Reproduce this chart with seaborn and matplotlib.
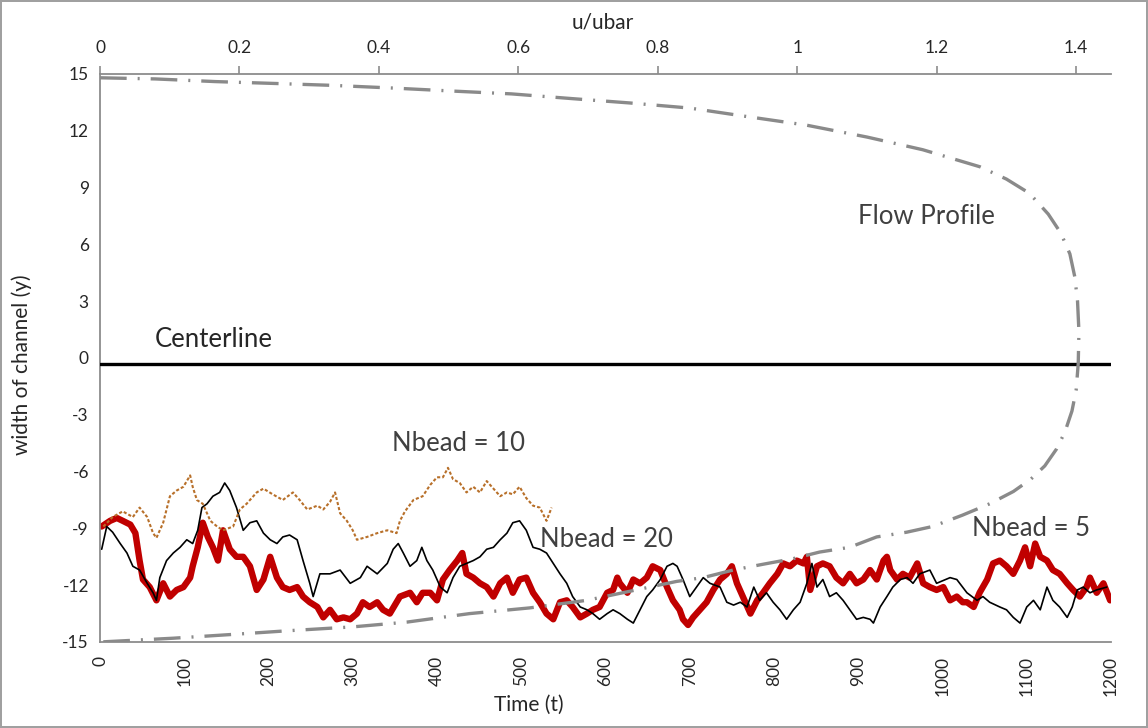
import matplotlib
matplotlib.use("Agg")
import matplotlib.pyplot as plt
import seaborn as sns
import numpy as np

# ---------------- data ----------------
# Nbead = 5 (thick red)
t5 = [2, 12, 20, 27, 36, 42, 47, 51, 59, 67, 75, 83, 91, 99, 107, 110, 116, 122, 128, 134,
      140, 146, 154, 162, 170, 178, 186, 194, 202, 210, 217, 225, 234, 241, 249, 258, 265,
      273, 281, 289, 297, 305, 312, 320, 329, 336, 344, 356, 368, 376, 383, 392, 400, 407,
      415, 424, 430, 435, 443, 451, 459, 467, 475, 483, 490, 498, 506, 514, 522, 530, 538,
      546, 554, 561, 570, 578, 585, 593, 602, 609, 614, 617, 626, 633, 641, 649, 656, 665,
      673, 680, 688, 692, 698, 704, 712, 720, 728, 736, 744, 750, 756, 763, 772, 780, 787,
      795, 804, 811, 819, 827, 835, 839, 843, 851, 858, 866, 874, 882, 890, 898, 906, 914,
      922, 930, 934, 938, 946, 953, 961, 970, 977, 985, 993, 1001, 1009, 1017, 1024, 1029,
      1037, 1044, 1053, 1060, 1068, 1076, 1084, 1092, 1098, 1104, 1110, 1116, 1124, 1131,
      1139, 1148, 1155, 1163, 1171, 1175, 1183, 1191, 1199]
y5 = [-8.9, -8.6, -8.45, -8.6, -8.8, -9.25, -10.7, -11.7, -12.1, -12.8, -11.9, -12.6, -12.25,
      -12.1, -11.6, -11.0, -10.0, -8.7, -9.45, -10.0, -10.7, -9.1, -10.1, -10.5, -10.5, -11.0,
      -12.25, -11.7, -10.5, -11.6, -12.1, -12.25, -12.1, -12.6, -12.9, -13.15, -13.7, -13.3,
      -13.8, -13.7, -13.8, -13.5, -12.9, -13.15, -12.9, -13.3, -13.5, -12.6, -12.4, -12.9,
      -12.4, -12.4, -12.8, -11.7, -11.2, -10.7, -10.3, -11.4, -11.6, -11.9, -12.1, -12.6,
      -11.9, -11.6, -12.4, -11.7, -11.6, -12.4, -12.9, -13.5, -13.8, -12.9, -12.8, -13.15,
      -13.7, -13.5, -13.3, -13.15, -12.4, -12.25, -11.6, -11.9, -12.4, -11.7, -11.9, -11.6,
      -11.0, -11.2, -12.1, -12.8, -13.3, -13.8, -14.1, -13.7, -13.3, -12.9, -12.25, -11.7,
      -11.4, -11.0, -11.9, -12.6, -13.5, -12.8, -12.4, -11.9, -11.4, -10.85, -11.0, -10.7,
      -10.85, -10.5, -12.25, -11.0, -10.85, -11.0, -11.6, -11.9, -11.4, -11.9, -11.7, -11.2,
      -11.7, -10.7, -10.5, -11.2, -11.7, -11.4, -11.6, -10.85, -11.9, -12.1, -12.25, -12.1,
      -12.8, -12.6, -12.9, -12.9, -13.15, -12.4, -11.7, -10.85, -10.7, -11.0, -11.4, -10.7,
      -10.0, -11.0, -9.8, -10.5, -10.7, -11.2, -11.4, -11.9, -12.25, -12.6, -12.1, -11.6,
      -12.4, -11.9, -12.8]

# Nbead = 20 (thin black)
t20 = [2, 8, 15, 24, 32, 39, 47, 56, 63, 67, 71, 79, 87, 95, 103, 110, 116, 121, 127, 134,
       142, 148, 154, 162, 170, 178, 186, 194, 202, 210, 217, 225, 234, 241, 249, 253, 261,
       273, 285, 297, 309, 317, 329, 341, 348, 354, 360, 368, 376, 382, 388, 395, 404, 412,
       419, 427, 435, 443, 451, 459, 467, 475, 483, 490, 498, 506, 514, 522, 530, 538, 546,
       554, 561, 570, 578, 585, 593, 602, 609, 617, 626, 633, 641, 649, 656, 665, 673, 680,
       685, 692, 700, 708, 716, 724, 736, 744, 752, 760, 768, 776, 783, 791, 799, 807, 815,
       823, 831, 839, 845, 851, 858, 866, 874, 882, 890, 898, 906, 914, 918, 926, 934, 941,
       950, 958, 965, 973, 985, 993, 1009, 1017, 1029, 1041, 1048, 1056, 1068, 1076, 1084,
       1092, 1100, 1108, 1116, 1124, 1131, 1139, 1148, 1154, 1160, 1167, 1175, 1183, 1195]
y20 = [-10.1, -8.9, -9.2, -9.8, -10.3, -11.0, -11.2, -11.9, -12.4, -12.8, -11.6, -10.7, -10.3,
       -10.0, -9.6, -9.8, -9.1, -7.9, -7.7, -7.3, -7.1, -6.6, -7.0, -7.9, -9.1, -8.7, -8.6,
       -9.25, -9.6, -9.8, -9.45, -9.35, -9.6, -10.7, -11.9, -12.6, -11.4, -11.4, -11.2, -11.9,
       -11.6, -11.0, -11.4, -10.85, -10.1, -9.8, -10.3, -11.0, -10.7, -10.0, -10.7, -11.2,
       -12.1, -12.4, -11.6, -11.0, -10.85, -10.7, -10.5, -10.1, -10.0, -9.6, -9.25, -8.7,
       -8.6, -9.1, -10.0, -10.1, -10.3, -10.85, -11.4, -11.9, -12.6, -13.15, -13.3, -13.5,
       -13.8, -13.5, -13.3, -13.5, -13.8, -14.0, -13.3, -12.6, -12.25, -11.7, -11.0, -10.85,
       -11.0, -11.7, -12.6, -12.1, -11.6, -11.9, -12.1, -12.9, -13.05, -12.9, -13.15, -12.1,
       -12.8, -12.4, -12.9, -13.3, -13.8, -13.3, -12.9, -11.9, -10.85, -12.1, -11.7, -12.6,
       -12.4, -12.8, -13.3, -13.8, -13.7, -13.8, -14.0, -13.15, -12.6, -12.1, -11.7, -11.6,
       -11.9, -11.4, -11.2, -11.9, -11.6, -11.7, -12.4, -12.8, -12.6, -12.9, -13.15, -13.3,
       -13.7, -14.0, -13.15, -12.8, -13.3, -12.1, -12.8, -13.15, -13.7, -13.15, -12.25, -12.1,
       -12.4, -12.25, -12.1]

# Nbead = 10 (brown dotted)
t10 = [4, 15, 27, 39, 47, 56, 63, 67, 75, 83, 91, 99, 107, 110, 115, 122, 131, 139, 146, 158,
       166, 174, 186, 194, 205, 217, 229, 237, 246, 258, 265, 273, 279, 285, 293, 300, 305,
       317, 329, 341, 352, 356, 362, 372, 383, 392, 400, 407, 413, 419, 427, 435, 443, 451,
       459, 467, 475, 483, 490, 498, 506, 514, 522, 530, 536]
y10 = [-8.9, -8.4, -8.1, -8.4, -7.9, -8.4, -9.25, -9.5, -8.7, -7.3, -7.0, -6.8, -6.2, -6.8,
       -7.5, -7.7, -8.6, -8.9, -9.1, -8.9, -8.0, -7.7, -7.1, -6.9, -7.2, -7.5, -7.1, -7.5,
       -8.0, -7.8, -8.0, -7.6, -7.1, -8.2, -8.6, -9.1, -9.6, -9.45, -9.25, -9.1, -9.25, -8.6,
       -8.1, -7.5, -7.3, -6.7, -6.3, -6.3, -5.8, -6.4, -6.6, -7.1, -6.8, -7.1, -6.5, -6.9,
       -7.3, -7.1, -7.2, -6.8, -7.4, -7.8, -7.9, -8.6, -7.9]

# Flow profile (top axis u/ubar vs y)
profile_u = [0.0, 0.079, 0.165, 0.251, 0.333, 0.419, 0.505, 0.59, 0.677, 0.76, 0.846, 0.932,
             1.013, 1.10, 1.18, 1.262, 1.30, 1.333, 1.360, 1.378, 1.391, 1.398, 1.402, 1.404,
             1.403, 1.40, 1.394, 1.384, 1.372, 1.355, 1.335, 1.31, 1.276, 1.237, 1.194, 1.157,
             1.114, 1.075, 1.032, 0.994, 0.95, 0.908, 0.865, 0.827, 0.698, 0.616, 0.53, 0.44,
             0.363, 0.272, 0.19, 0.105, 0.0]
profile_y = [14.8, 14.74, 14.6, 14.5, 14.4, 14.26, 14.1, 13.95, 13.7, 13.47, 13.2, 12.73,
             12.3, 11.67, 11.0, 10.1, 9.45, 8.7, 7.6, 6.6, 5.5, 4.3, 3.0, 1.4, -0.3, -1.7,
             -2.8, -3.9, -4.8, -5.7, -6.4, -7.05, -7.7, -8.3, -8.9, -9.2, -9.45, -10.0,
             -10.25, -10.6, -10.9, -11.2, -11.6, -11.8, -12.8, -13.2, -13.5, -13.95, -14.2,
             -14.4, -14.6, -14.8, -15.0]

centerline_y = -0.3

y_ticks = [15, 12, 9, 6, 3, 0, -3, -6, -9, -12, -15]
t_ticks = [0, 100, 200, 300, 400, 500, 600, 700, 800, 900, 1000, 1100, 1200]
u_ticks = [0, 0.2, 0.4, 0.6, 0.8, 1.0, 1.2, 1.4]
u_tick_labels = ["0", "0.2", "0.4", "0.6", "0.8", "1", "1.2", "1.4"]

# ---------------- style ----------------
sns.set_theme(style="white")
plt.rcParams["font.family"] = ["Lato", "DejaVu Sans"]
plt.rcParams["axes.unicode_minus"] = False

fig = plt.figure(figsize=(11.48, 7.28), dpi=100, linewidth=1.5, edgecolor="#a0a0a0")
ax = fig.add_axes([100 / 1148, 1 - 642 / 728, (1111 - 100) / 1148, (642 - 74) / 728])

spine_col = "#8c8c8c"
txt_col = "#262626"
ann_col = "#404040"

# series
sns.lineplot(x=t5, y=y5, ax=ax, color="#c00000", linewidth=4.6, estimator=None, sort=False)
sns.lineplot(x=t20, y=y20, ax=ax, color="black", linewidth=1.2, estimator=None, sort=False)
sns.lineplot(x=t10, y=y10, ax=ax, color="#b8702a", linewidth=1.5, estimator=None, sort=False,
             linestyle=(0, (1.5, 1.0)))
ax.axhline(centerline_y, color="black", linewidth=2.4, zorder=3)

ax.set_xlim(0, 1200)
ax.set_ylim(-15, 15)
ax.set_xticks(t_ticks)
ax.set_xticklabels([str(v) for v in t_ticks], rotation=90, fontsize=12.5, color=txt_col)
ax.set_yticks(y_ticks)
ax.set_yticklabels([str(v) for v in y_ticks], fontsize=12.5, color=txt_col)
ax.tick_params(axis="x", length=0, pad=10)
ax.tick_params(axis="y", length=0, pad=8)
ax.set_xlabel("Time (t)", fontsize=15, color=txt_col)
ax.xaxis.set_label_coords((529 - 100) / 1011, -(695 - 642) / 568)
ax.set_ylabel("width of channel (y)", fontsize=15, color=txt_col)
ax.yaxis.set_label_coords(-(100 - 32) / 1011, (642 - 365) / 568)
for s in ["right", "top"]:
    ax.spines[s].set_visible(False)
for s in ["left", "bottom"]:
    ax.spines[s].set_color(spine_col)
    ax.spines[s].set_linewidth(1.3)

# top axis: flow profile
ax2 = ax.twiny()
sns.lineplot(x=profile_u, y=profile_y, ax=ax2, color="#8a8a8a", linewidth=2.4,
             estimator=None, sort=False, linestyle=(0, (8.0, 3.3, 0.6, 3.3)))
ax2.set_xlim(0, 1.45)
ax2.set_ylim(-15, 15)
ax2.set_xticks(u_ticks)
ax2.set_xticklabels(u_tick_labels, fontsize=12.5, color=txt_col)
ax2.tick_params(axis="x", length=6, width=1.2, color=spine_col, direction="out", pad=7)
ax2.set_xlabel("u/ubar", fontsize=15, color=txt_col)
ax2.xaxis.set_label_coords((603 - 100) / 1011, 1 + (74 - 29) / 568)
for s in ["right", "left", "bottom"]:
    ax2.spines[s].set_visible(False)
ax2.spines["top"].set_color(spine_col)
ax2.spines["top"].set_linewidth(1.3)

# annotations
ann_fs = 18.5
ax.text(65, 1.0, "Centerline", fontsize=ann_fs, color=txt_col, ha="left", va="center")
ax.text(900, 7.5, "Flow Profile", fontsize=ann_fs, color=ann_col, ha="left", va="center")
ax.text(347, -4.5, "Nbead = 10", fontsize=ann_fs, color=ann_col, ha="left", va="center")
ax.text(522, -9.6, "Nbead = 20", fontsize=ann_fs, color=ann_col, ha="left", va="center")
ax.text(1035, -9.0, "Nbead = 5", fontsize=ann_fs, color=ann_col, ha="left", va="center")

fig.savefig("out.png", dpi=100)
